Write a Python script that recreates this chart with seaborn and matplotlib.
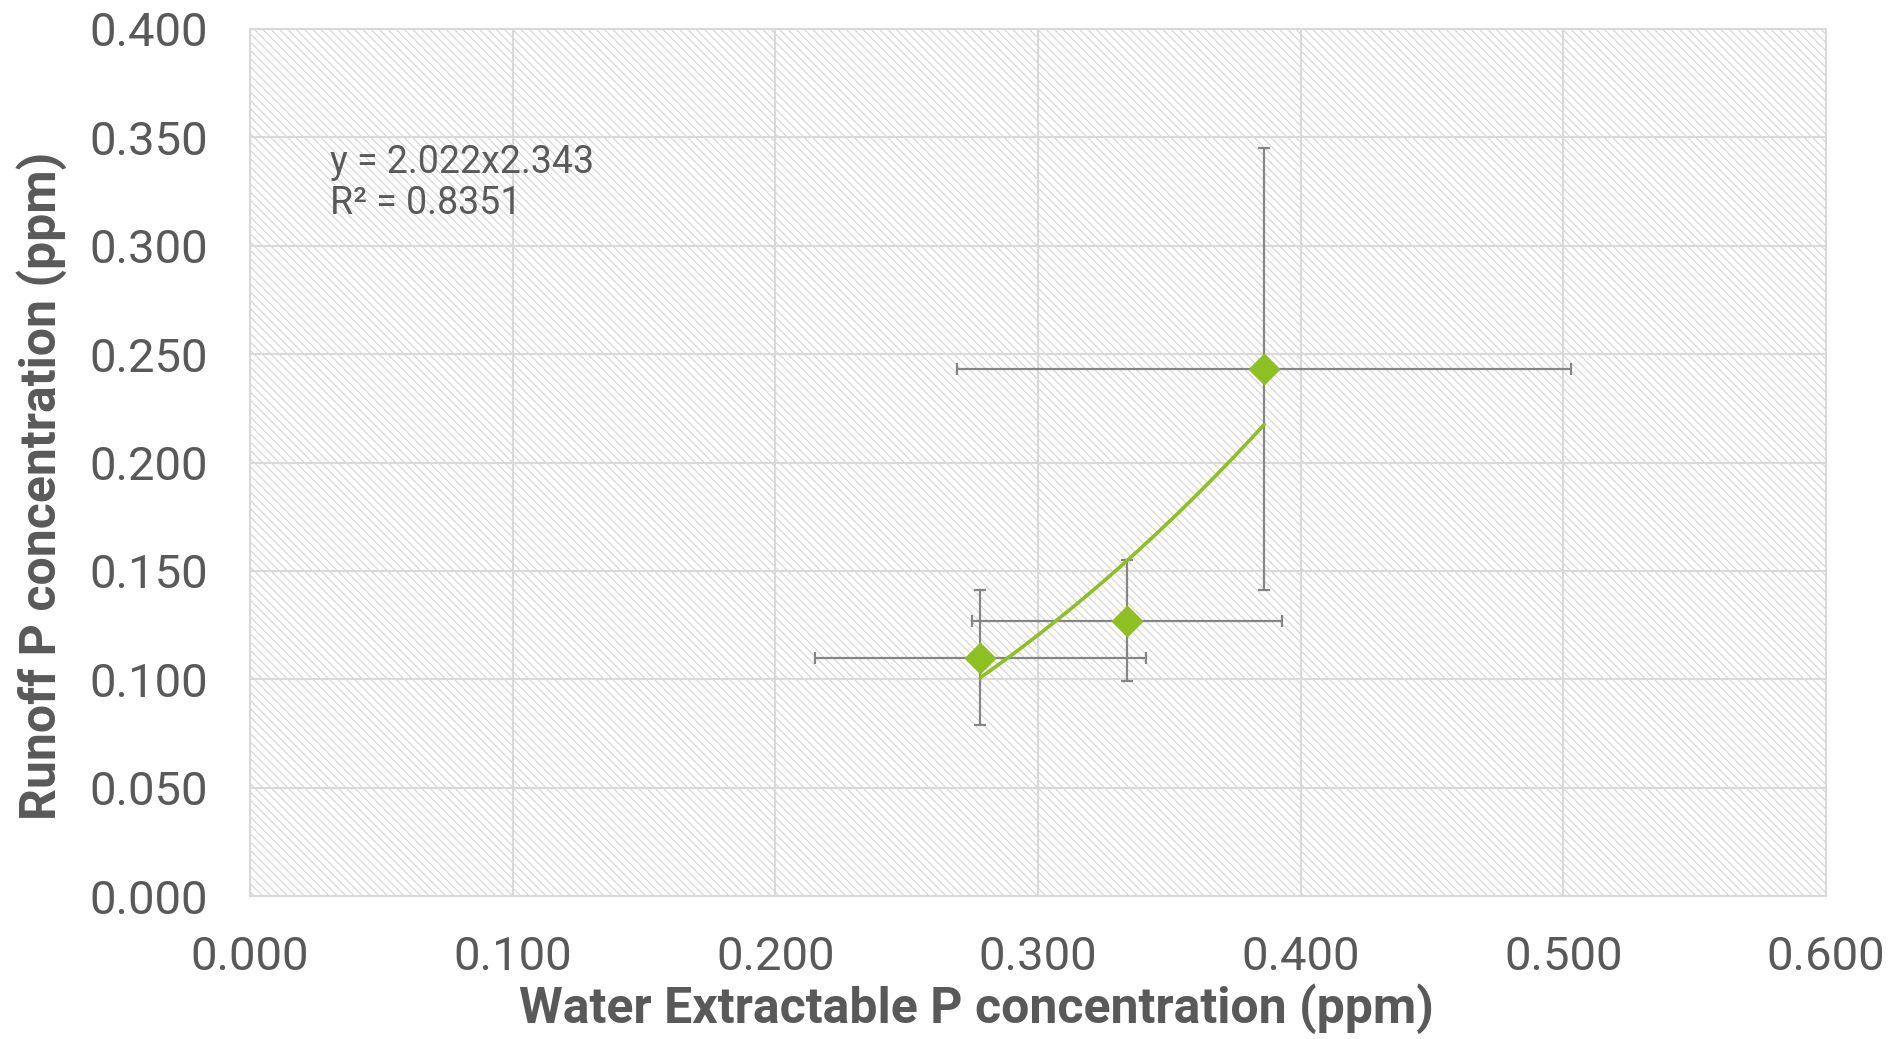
import numpy as np
import pandas as pd
import matplotlib
matplotlib.use("Agg")
import matplotlib.pyplot as plt
from matplotlib.patches import Rectangle
import seaborn as sns

wep_x   = [0.278, 0.334, 0.386]
runoff_y = [0.110, 0.127, 0.243]
x_err   = [0.063, 0.059, 0.117]
y_err   = [0.031, 0.028, 0.102]

# power trendline y = a * x^b
fit_a, fit_b, fit_r2 = 2.022, 2.343, 0.8351

x_ticks = [0.0, 0.1, 0.2, 0.3, 0.4, 0.5, 0.6]
y_ticks = [0.0, 0.05, 0.1, 0.15, 0.2, 0.25, 0.3, 0.35, 0.4]

GREEN = "#8dc021"
TXT   = "#595959"
GRID  = "#d9d9d9"

sns.set_theme(style="white")
plt.rcParams["font.family"] = ["Roboto", "DejaVu Sans"]
plt.rcParams["hatch.color"] = "#d4d4d4"
plt.rcParams["hatch.linewidth"] = 0.8

df = pd.DataFrame({"x": wep_x, "y": runoff_y})
xs = np.linspace(min(wep_x), max(wep_x), 100)
trend = pd.DataFrame({"x": xs, "y": fit_a * xs ** fit_b})

fig, ax = plt.subplots(figsize=(19.01, 10.39), dpi=100)
fig.subplots_adjust(left=250/1901, right=1826/1901, top=1-29/1039, bottom=1-896/1039)

# hatched plot area
ax.add_patch(Rectangle((0, 0), 1, 1, transform=ax.transAxes, facecolor="white",
                       edgecolor="#d4d4d4", hatch="\\\\\\\\", lw=0, zorder=0))
ax.set_axisbelow(True)
ax.grid(True, color=GRID, lw=1.5, zorder=1)

ax.errorbar(wep_x, runoff_y, xerr=x_err, yerr=y_err, fmt="none",
            ecolor="#858585", elinewidth=1.6, capsize=4.5, capthick=1.6, zorder=3)
sns.lineplot(data=trend, x="x", y="y", ax=ax, color=GREEN, lw=2.6, zorder=4)
sns.scatterplot(data=df, x="x", y="y", ax=ax, marker="D", s=270, color=GREEN,
                edgecolor=GREEN, linewidth=0, zorder=5)

ax.set_xlim(0, 0.6)
ax.set_ylim(0, 0.4)
ax.set_xticks(x_ticks)
ax.set_yticks(y_ticks)
ax.set_xticklabels([f"{v:.3f}" for v in x_ticks])
ax.set_yticklabels([f"{v:.3f}" for v in y_ticks])
ax.tick_params(axis="both", labelsize=34, colors=TXT, length=0)
ax.tick_params(axis="x", pad=28)
ax.tick_params(axis="y", pad=30)
for t in ax.get_xticklabels() + ax.get_yticklabels():
    t.set_color(TXT)

for s in ax.spines.values():
    s.set_color(GRID)
    s.set_linewidth(1.5)

ax.set_xlabel("Water Extractable P concentration (ppm)", fontsize=36,
              fontweight="bold", color=TXT, va="center")
ax.xaxis.set_label_coords(0.461, -0.130)
ax.set_ylabel("Runoff P concentration (ppm)", fontsize=36,
              fontweight="bold", color=TXT, va="center")
ax.yaxis.set_label_coords(-0.132, 0.473)

ax.text(0.0305, 0.329, f"y = {fit_a}x{fit_b}\nR² = {fit_r2}", fontsize=27,
        color=TXT, va="center", ha="left", linespacing=1.15, zorder=6)

fig.savefig("out.png", dpi=100)
